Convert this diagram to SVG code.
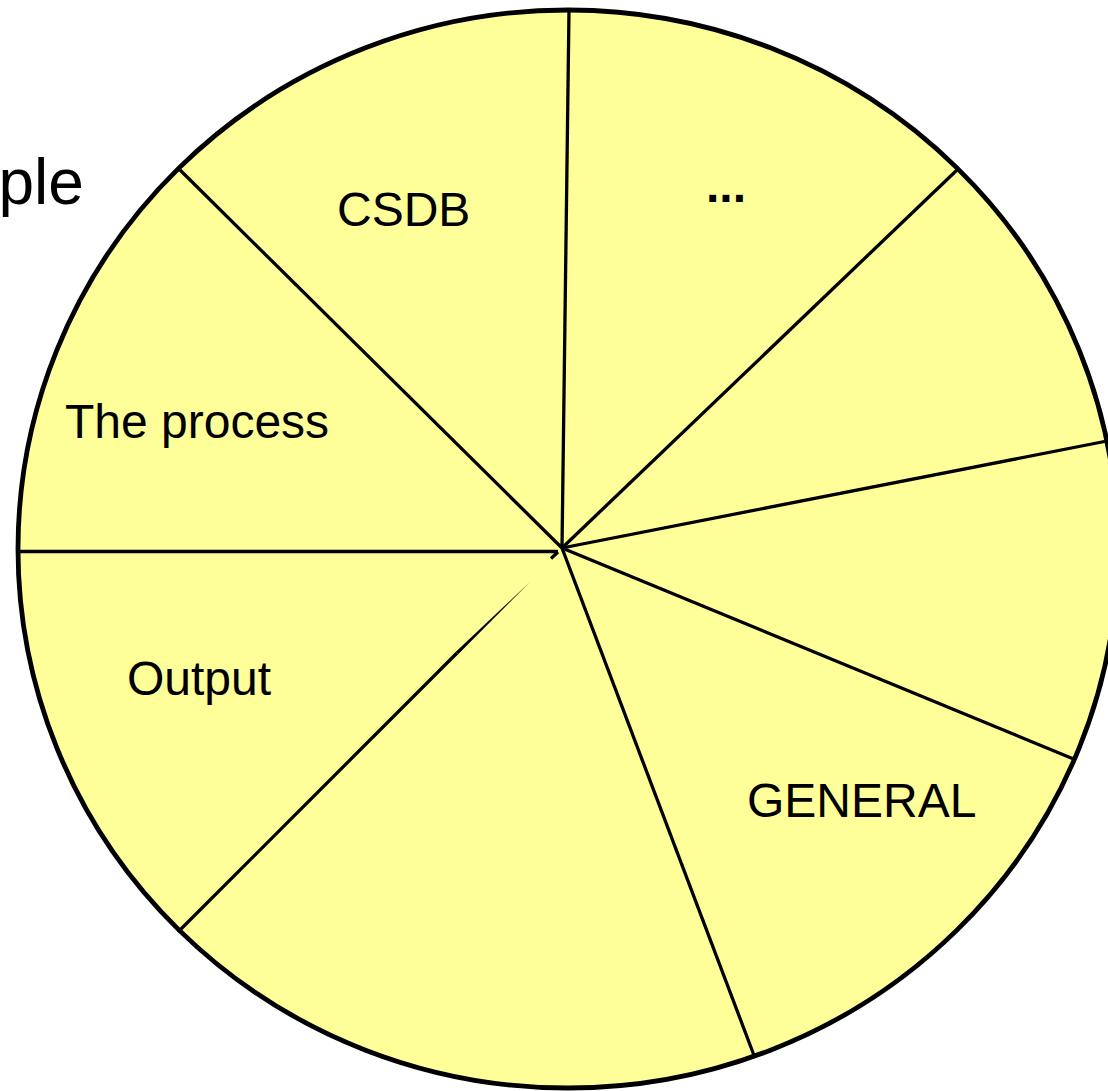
<svg xmlns="http://www.w3.org/2000/svg" width="1108" height="1091" viewBox="0 0 1108 1091">
  <style>
    .disc { fill: #FFFF99; stroke: #000; stroke-width: 4.8; }
    .spoke { stroke: #000; stroke-width: 3.3; fill: none; stroke-linecap: butt; }
    .label { font-family: "Liberation Sans", Arial, sans-serif; font-size: 48px; fill: #000; }
  </style>
  <rect x="0" y="0" width="1108" height="1091" fill="#FFFFFF"/>

  <!-- title fragment at the left edge -->
  <text id="title" x="-1.5" y="204" font-family="Liberation Sans, Arial, sans-serif" font-size="64" fill="#000">ple</text>

  <!-- the wheel -->
  <g id="wheel">
    <ellipse class="disc" cx="568" cy="549" rx="550" ry="539"/>
  </g>

  <!-- dividing spokes -->
  <g id="spokes">
    <line class="spoke" x1="17" y1="551.5" x2="558" y2="551.5"/>
    <line class="spoke" x1="180" y1="170" x2="562" y2="548"/>
    <line class="spoke" x1="569" y1="10" x2="562" y2="548"/>
    <line class="spoke" x1="957" y1="170" x2="562" y2="548"/>
    <line class="spoke" x1="1107" y1="441" x2="562" y2="548"/>
    <line class="spoke" x1="1076" y1="760" x2="562" y2="548"/>
    <line class="spoke" x1="755" y1="1058" x2="562" y2="548"/>
    <line class="spoke" x1="178" y1="932" x2="457" y2="653"/>
    <polygon points="455.8,651.8 458.2,654.2 530.5,581.5" fill="#000"/>
    <line class="spoke" x1="551" y1="558.5" x2="558" y2="552"/>
  </g>

  <!-- segment labels -->
  <g id="seg-csdb"><text class="label" x="337" y="226">CSDB</text></g>
  <g id="seg-more"><text class="label" x="706" y="202" font-weight="bold">...</text></g>
  <g id="seg-process"><text class="label" x="65" y="438">The process</text></g>
  <g id="seg-output"><text class="label" x="127" y="695">Output</text></g>
  <g id="seg-general"><text class="label" x="747" y="816.5">GENERAL</text></g>
</svg>
